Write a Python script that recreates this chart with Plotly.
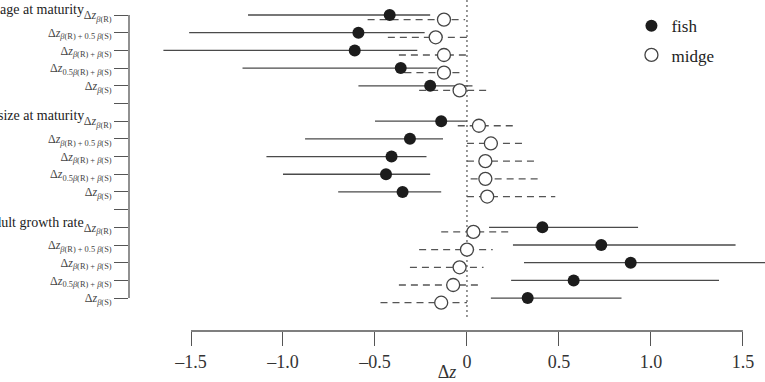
import plotly.graph_objects as go

# ---------------- data ----------------
groups = ["age at maturity", "size at maturity", "adult growth rate"]
row_labels = [
    "Δ<i>z</i><sub><i>β</i>(R)</sub>",
    "Δ<i>z</i><sub><i>β</i>(R) + 0.5 <i>β</i>(S)</sub>",
    "Δ<i>z</i><sub><i>β</i>(R) + <i>β</i>(S)</sub>",
    "Δ<i>z</i><sub>0.5<i>β</i>(R) + <i>β</i>(S)</sub>",
    "Δ<i>z</i><sub><i>β</i>(S)</sub>",
]

fish_age_mean = [-0.42, -0.59, -0.61, -0.36, -0.20]
fish_age_lo = [-1.19, -1.51, -1.65, -1.22, -0.59]
fish_age_hi = [-0.20, -0.23, -0.27, -0.16, 0.03]
midge_age_mean = [-0.125, -0.17, -0.125, -0.125, -0.04]
midge_age_lo = [-0.54, -0.43, -0.37, -0.34, -0.26]
midge_age_hi = [-0.01, 0.0, 0.0, -0.02, 0.11]

fish_size_mean = [-0.14, -0.31, -0.41, -0.44, -0.35]
fish_size_lo = [-0.50, -0.88, -1.09, -1.00, -0.70]
fish_size_hi = [0.0, -0.13, -0.22, -0.20, -0.14]
midge_size_mean = [0.065, 0.13, 0.10, 0.10, 0.11]
midge_size_lo = [-0.05, 0.0, 0.0, 0.02, 0.0]
midge_size_hi = [0.26, 0.31, 0.38, 0.40, 0.48]

fish_growth_mean = [0.41, 0.73, 0.89, 0.58, 0.33]
fish_growth_lo = [0.12, 0.25, 0.31, 0.24, 0.13]
fish_growth_hi = [0.93, 1.46, 1.75, 1.37, 0.84]
midge_growth_mean = [0.035, 0.0, -0.04, -0.075, -0.14]
midge_growth_lo = [-0.14, -0.26, -0.31, -0.37, -0.47]
midge_growth_hi = [0.25, 0.14, 0.09, 0.08, 0.0]

x_tickvals = [-1.5, -1.0, -0.5, 0, 0.5, 1.0, 1.5]
x_ticktext = ["–1.5", "–1.0", "–0.5", "0", "0.5", "1.0", "1.5"]

# ---------------- assemble ----------------
fish_mean = [fish_age_mean, fish_size_mean, fish_growth_mean]
fish_lo = [fish_age_lo, fish_size_lo, fish_growth_lo]
fish_hi = [fish_age_hi, fish_size_hi, fish_growth_hi]
midge_mean = [midge_age_mean, midge_size_mean, midge_growth_mean]
midge_lo = [midge_age_lo, midge_size_lo, midge_growth_lo]
midge_hi = [midge_age_hi, midge_size_hi, midge_growth_hi]

MIDGE_OFF = 0.26
fx, fy, fmx, fmy = [], [], [], []
mx, my, mmx, mmy = [], [], [], []
tickvals, ticktext = [], []
for g in range(3):
    base = g * 6
    for i in range(5):
        y = base + i
        fx += [fish_lo[g][i], fish_hi[g][i], None]
        fy += [y, y, None]
        fmx.append(fish_mean[g][i]); fmy.append(y)
        ym = y + MIDGE_OFF
        mx += [midge_lo[g][i], midge_hi[g][i], None]
        my += [ym, ym, None]
        mmx.append(midge_mean[g][i]); mmy.append(ym)
        tickvals.append(y); ticktext.append(row_labels[i])
    if g < 2:
        tickvals.append(base + 5); ticktext.append("")

FONT = "'Liberation Serif', 'Times New Roman', Times, serif"
fig = go.Figure()
fig.add_trace(go.Scatter(x=fx, y=fy, mode="lines", showlegend=False,
                         line=dict(color="#4a4a4a", width=1.3), hoverinfo="skip"))
fig.add_trace(go.Scatter(x=mx, y=my, mode="lines", showlegend=False,
                         line=dict(color="#555555", width=1.3, dash="7px,5px"), hoverinfo="skip"))
fig.add_trace(go.Scatter(x=fmx, y=fmy, mode="markers", name="fish", legendgroup="a",
                         marker=dict(size=12, color="#1c1c1c", line=dict(width=0))))
fig.add_trace(go.Scatter(x=mmx, y=mmy, mode="markers", name="midge", legendgroup="b",
                         marker=dict(size=13, color="white", line=dict(width=1.3, color="#444444"))))

# axis lines drawn only over the labelled extent
fig.add_shape(type="line", xref="x", yref="paper", x0=-1.5, x1=1.5, y0=0, y1=0,
              line=dict(color="#555555", width=1.3))
fig.add_shape(type="line", xref="paper", yref="y", x0=0, x1=0, y0=0, y1=16,
              line=dict(color="#555555", width=1.3))
fig.add_shape(type="line", xref="x", yref="y", x0=0, x1=0, y0=-0.85, y1=17.2,
              line=dict(color="#777777", width=1.5, dash="2px,3px"), layer="below")

for g, name in enumerate(groups):
    fig.add_annotation(text=name, xref="paper", yref="y", x=-0.068, y=g * 6 - 0.3,
                       xanchor="right", yanchor="middle", showarrow=False,
                       font=dict(family=FONT, size=14, color="#222"))

fig.update_layout(
    width=765, height=382,
    margin=dict(l=129, r=0, t=0, b=51, autoexpand=False),
    plot_bgcolor="white", paper_bgcolor="white",
    font=dict(family=FONT, color="#333"),
    xaxis=dict(range=[-1.837, 1.62], showgrid=False, zeroline=False, showline=False,
               automargin=False,
               tickvals=x_tickvals, ticktext=x_ticktext, ticks="outside", ticklen=14,
               tickwidth=1.3, tickcolor="#555555",
               tickfont=dict(family=FONT, size=18, color="#333"),
               title=dict(text="Δ<i>z</i>", font=dict(family=FONT, size=18, color="#333"), standoff=13)),
    yaxis=dict(range=[17.86, -0.848], showgrid=False, zeroline=False, showline=False,
               automargin=False,
               tickvals=tickvals, ticktext=ticktext, ticks="outside", ticklen=14,
               tickwidth=1.3, tickcolor="#555555",
               tickfont=dict(family=FONT, size=12, color="#444")),
    legend=dict(x=0.79, y=0.975, xanchor="left", yanchor="top", bgcolor="rgba(0,0,0,0)",
                font=dict(family=FONT, size=17, color="#222"), tracegroupgap=4,
                itemwidth=30),
    showlegend=True,
)

fig.write_html("out.html")
